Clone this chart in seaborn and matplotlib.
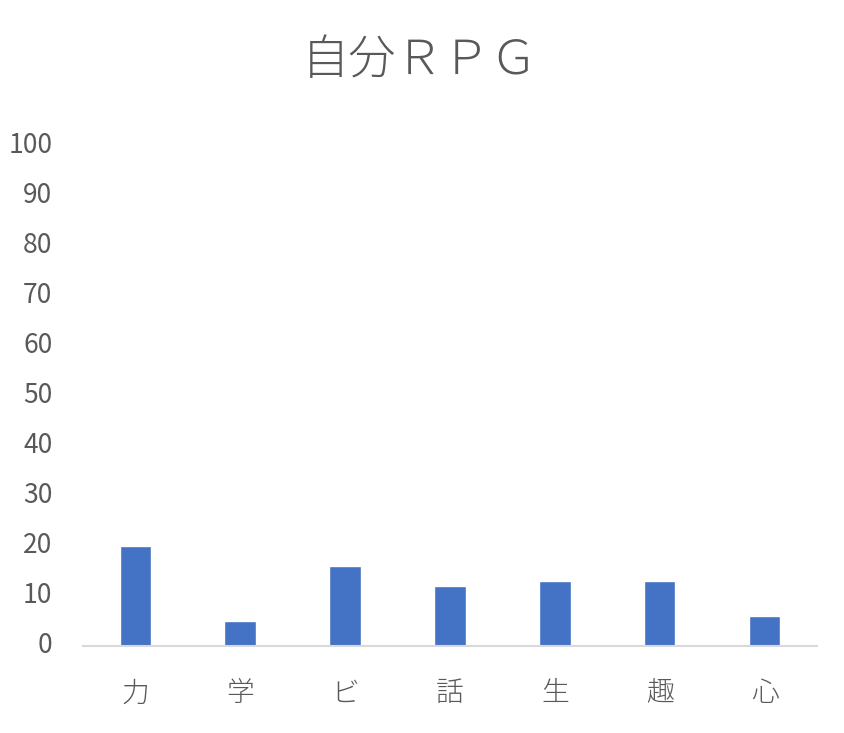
import matplotlib
matplotlib.use("Agg")
import matplotlib.pyplot as plt
import matplotlib.transforms as mtransforms
import seaborn as sns
import pandas as pd

# ================= DATA =================
categories = ["力", "学", "ビ", "話", "生", "趣", "心"]
values = [20, 5, 16, 12, 13, 13, 6]
y_ticks = list(range(0, 101, 10))
title = "自分ＲＰＧ"

df = pd.DataFrame({"cat": categories, "val": values})

# ================= STYLE =================
sns.set_theme(style="white")
plt.rcParams['font.family'] = ['Noto Sans CJK JP', 'DejaVu Sans']
text_color = "#595959"

fig = plt.figure(figsize=(8.45, 7.33), dpi=100)
ax = fig.add_axes([0.098, 0.1187, 0.869, 0.6821])

sns.barplot(data=df, x="cat", y="val", color="#4472C4", width=0.3,
            saturation=1, ax=ax)

ax.set_ylim(0, 100)
ax.set_yticks(y_ticks)
ax.set_xlim(-0.5, len(categories) - 0.5)
ax.set_xlabel("")
ax.set_ylabel("")

for side in ["top", "right", "left"]:
    ax.spines[side].set_visible(False)
ax.spines["bottom"].set_color("#D9D9D9")
ax.spines["bottom"].set_linewidth(1.5)

ax.tick_params(axis="y", length=0, labelsize=19, colors=text_color, pad=22)
shift_up = mtransforms.ScaledTranslation(0, 0.035, fig.dpi_scale_trans)
for lbl in ax.get_yticklabels():
    lbl.set_verticalalignment("center_baseline")
    lbl.set_transform(lbl.get_transform() + shift_up)
ax.tick_params(axis="x", length=0, labelsize=20, colors=text_color, pad=24)
for lbl in ax.get_xticklabels():
    lbl.set_fontweight("light")

fig.text(0.497, 0.918, title, ha="center", va="center",
         fontsize=34, color=text_color, fontweight="light")

plt.savefig("out.png", dpi=100)
plt.close()
